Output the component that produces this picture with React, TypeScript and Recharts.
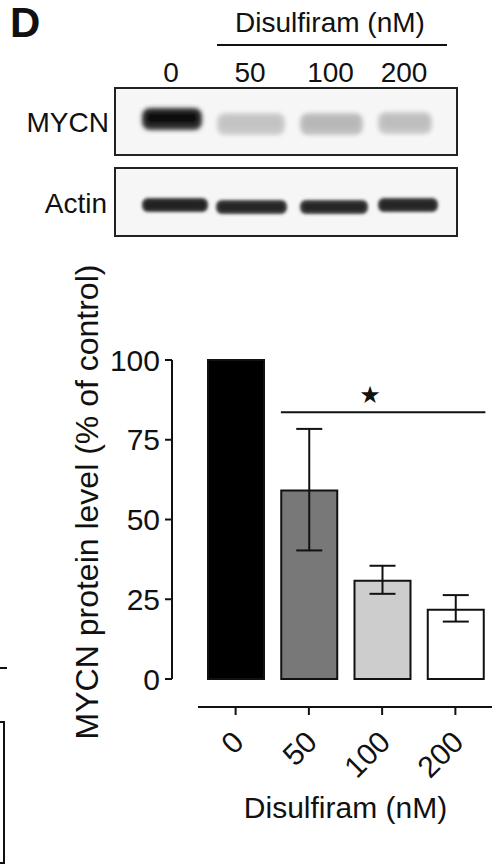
import React from 'react';
import { ComposedChart, Bar, Cell, XAxis, YAxis, ErrorBar, ReferenceLine, Label } from 'recharts';

// ---- data ----
const doses = ['0', '50', '100', '200'];
const mycnLevel = [100, 59.1, 30.8, 21.7];
const errLow = [0, 18.8, 4.1, 3.7];
const errHigh = [0, 19.3, 4.7, 4.6];
const yTicks = [0, 25, 50, 75, 100];
const sigLevel = 83.6;
const blotLanes = ['0', '50', '100', '200'];
const mycnBand = [0.95, 0.22, 0.27, 0.24];
const actinBand = [0.86, 0.84, 0.84, 0.85];

// ---- styles ----
const FONT = '"Liberation Sans", Arial, Helvetica, sans-serif';
const INK = '#111';
const barFills = ['#000000', '#787878', '#cdcdcd', '#ffffff'];

const data = doses.map((d, i) => ({
  dose: d,
  level: mycnLevel[i],
  err: errLow[i] === 0 && errHigh[i] === 0 ? null : [errLow[i], errHigh[i]],
}));

const XTick = (props: any) => {
  const { x, y, payload } = props;
  const ax = x + 10;
  const ay = y + 65;
  return (
    <g>
      <line x1={x} y1={y + 28} x2={x} y2={y + 36} stroke={INK} strokeWidth={2} />
      <text
        x={ax}
        y={ay}
        textAnchor="end"
        transform={`rotate(-45 ${ax} ${ay})`}
        fontSize={30}
        fontFamily={FONT}
        fill={INK}
      >
        {payload.value}
      </text>
    </g>
  );
};

const SigShape = (props: any) => {
  const { x1, x2, y1 } = props;
  const half = 28;
  const mid = (x1 + x2) / 2 - 12;
  return (
    <g>
      <line x1={x1 - half} y1={y1} x2={x2 + half + 2} y2={y1} stroke={INK} strokeWidth={2} />
      <text x={mid} y={y1 - 17} textAnchor="middle" dominantBaseline="central" fontSize={24} fontFamily='"DejaVu Sans", sans-serif' fill={INK}>
        ★
      </text>
    </g>
  );
};

const Blot = () => {
  const mycnGeom = [
    [142, 202, 119],
    [217, 285, 124],
    [300, 363, 124],
    [378, 432, 123],
  ];
  const actinGeom = [
    [142, 208, 205],
    [216, 287, 207],
    [300, 368, 207],
    [378, 438, 205],
  ];
  const gray = (v: number) => {
    const g = Math.round(250 * (1 - v));
    return `rgb(${g},${g},${g})`;
  };
  return (
    <svg width={492} height={866} style={{ position: 'absolute', left: 0, top: 0, pointerEvents: 'none' }}>
      <defs>
        <filter id="blur1" x="-20%" y="-50%" width="140%" height="200%">
          <feGaussianBlur stdDeviation="2.2" />
        </filter>
        <filter id="blur2" x="-20%" y="-50%" width="140%" height="200%">
          <feGaussianBlur stdDeviation="1.4" />
        </filter>
      </defs>
      <text x={10} y={37} fontSize={42} fontWeight="bold" fontFamily={FONT} fill={INK}>D</text>
      <text x={330} y={32} textAnchor="middle" fontSize={28} fontFamily={FONT} fill={INK}>Disulfiram (nM)</text>
      <line x1={217} y1={45} x2={447} y2={45} stroke={INK} strokeWidth={2} />
      {blotLanes.map((l, i) => (
        <text key={l} x={(mycnGeom[i][0] + mycnGeom[i][1]) / 2 - 1} y={82} textAnchor="middle" fontSize={28} fontFamily={FONT} fill={INK}>
          {l}
        </text>
      ))}
      <text x={109} y={132} textAnchor="end" fontSize={28} fontFamily={FONT} fill={INK}>MYCN</text>
      <text x={107} y={213} textAnchor="end" fontSize={28} fontFamily={FONT} fill={INK}>Actin</text>

      <rect x={115} y={88} width={342} height={67} fill="#f6f6f6" stroke="#222" strokeWidth={2} />
      <rect x={115} y={168} width={342} height={68} fill="#f6f6f6" stroke="#222" strokeWidth={2} />
      {mycnBand.map((v, i) => {
        const [a, b, c] = mycnGeom[i];
        return (
          <g key={'m' + i} filter="url(#blur1)">
            <rect x={a} y={c - 11} width={b - a} height={22} rx={8} fill={gray(v * 0.85)} />
            <rect x={a + 4} y={c - 7} width={b - a - 8} height={12} rx={5} fill={gray(v)} />
          </g>
        );
      })}
      {actinBand.map((v, i) => {
        const [a, b, c] = actinGeom[i];
        return (
          <g key={'a' + i} filter="url(#blur2)">
            <rect x={a} y={c - 7} width={b - a} height={14} rx={6} fill={gray(v * 0.9)} />
            <rect x={a + 3} y={c - 4} width={b - a - 6} height={8} rx={3} fill={gray(v)} />
          </g>
        );
      })}

      {/* fragments of the neighbouring panel */}
      <line x1={0} y1={668} x2={7} y2={668} stroke={INK} strokeWidth={2} />
      <polyline points="0,722 4,722 4,863 0,863" fill="none" stroke={INK} strokeWidth={2} />
    </svg>
  );
};

export default function App() {
  return (
    <div style={{ position: 'absolute', left: 0, top: 0, width: 492, height: 866, background: '#fff' }}>
      <ComposedChart width={492} height={866} data={data} margin={{ top: 360, right: 0, bottom: 0, left: 0 }}>
        <XAxis
          dataKey="dose"
          height={187}
          padding={{ left: 27, right: 0 }}
          tickSize={0}
          tickMargin={0}
          tickLine={false}
          axisLine={{ stroke: INK, strokeWidth: 2, transform: 'translate(26 28)' } as any}
          tick={<XTick />}
          interval={0}
        >
          <Label
            content={(p: any) => {
              const vb = p.viewBox;
              return (
                <text x={vb.x + 27 + (vb.width - 27) / 2} y={vb.y + 139} textAnchor="middle" fontSize={30} fontFamily={FONT} fill={INK}>
                  Disulfiram (nM)
                </text>
              );
            }}
          />
        </XAxis>
        <YAxis
          domain={[0, 100]}
          ticks={yTicks}
          width={172}
          tickSize={7}
          tickMargin={5}
          interval={0}
          axisLine={{ stroke: INK, strokeWidth: 2 }}
          tickLine={{ stroke: INK, strokeWidth: 2 }}
          tick={{ fontSize: 30, fill: INK, fontFamily: FONT }}
        >
          <Label
            content={() => (
              <text x={98} y={502} textAnchor="middle" transform="rotate(-90 98 502)" fontSize={32} fontFamily={FONT} fill={INK}>
                MYCN protein level (% of control)
              </text>
            )}
          />
        </YAxis>
        <Bar dataKey="level" barSize={56} stroke={INK} strokeWidth={2} isAnimationActive={false}>
          {data.map((d, i) => (
            <Cell key={d.dose} fill={barFills[i]} />
          ))}
          <ErrorBar dataKey="err" width={13} stroke={INK} strokeWidth={2} direction="y" />
        </Bar>
        <ReferenceLine
          segment={[{ x: '50', y: sigLevel }, { x: '200', y: sigLevel }]}
          shape={<SigShape />}
        />
      </ComposedChart>
      <Blot />
    </div>
  );
}
